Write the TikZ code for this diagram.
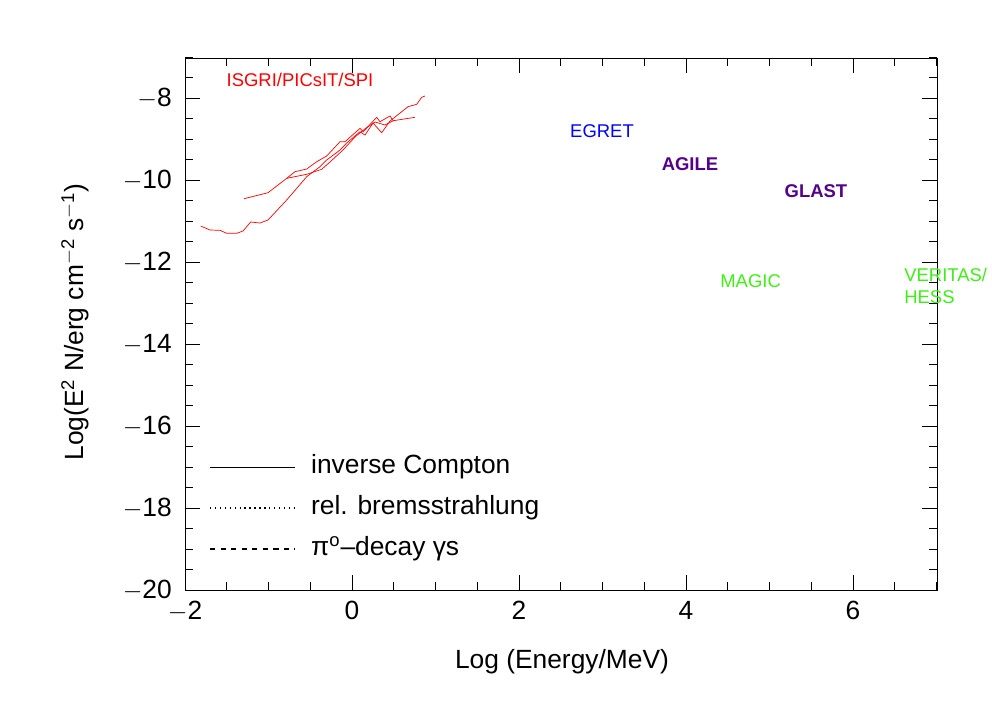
\documentclass[tikz,border=0pt]{standalone}
\usepackage{fontspec}
\setmainfont{Liberation Sans}
\usetikzlibrary{arrows.meta}
\definecolor{purp}{RGB}{85,0,140}
\definecolor{grn}{RGB}{60,240,20}

\begin{document}
\begin{tikzpicture}[x=0.02cm, y=-0.02cm, thin,
  lbl/.style={font=\fontsize{15}{15}\selectfont},
  tag/.style={font=\fontsize{10.5}{10.5}\selectfont},
  glabel/.style={tag, text=grn, anchor=west, inner sep=0pt},
  obs/.style={purp, line width=1.6pt},
  ic/.style={solid}, brems/.style={dotted, thick}, pion/.style={dashed, thick}]
\useasboundingbox (0,0) rectangle (992,708);
% frame
\node [draw, minimum width=752*0.02cm, minimum height=532*0.02cm, anchor=north west, inner sep=0pt] (box) at (185,58) {};
% ticks
\foreach \i in {0,...,18} {
  \pgfmathsetmacro\len{mod(\i,4)==0 ? 15 : 8}
  \draw (185+\i*41.75,590) -- ++(0,-\len);
  \draw (185+\i*41.75,58) -- ++(0,\len);
}
\foreach \i in {0,...,26} {
  \pgfmathsetmacro\len{mod(\i,4)==0 ? 15 : 8}
  \draw (185,590-\i*20.5) -- ++(\len,0);
  \draw (937,590-\i*20.5) -- ++(-\len,0);
}
\foreach \v [count=\k from 0] in {$-$2,0,2,4,6}
  \node [lbl, below=3pt] (xt\k) at (185+\k*167,590) {\v};
\foreach \v [count=\k from 0] in {$-$20,$-$18,$-$16,$-$14,$-$12,$-$10,$-$8}
  \node [lbl, left=4pt] (yt\k) at (185,590-\k*82) {\v};
\node [lbl] (xlab) at (562,662) {Log (Energy/MeV)};
\node [lbl, rotate=90] (ylab) at (75,322) {Log(E\textsuperscript{2} N/erg cm\textsuperscript{$-$2} s\textsuperscript{$-$1})};

% model curves, data units
\begin{scope}[shift={(350,938)}, x=83.5*0.02cm, y=41*0.02cm]
\clip (-2,-20) rectangle (7,-7);
\draw [smooth] plot coordinates {(-2,-13.2) (-1,-12.75) (0,-12.3) (1,-11.8) (2,-11.35) (2.8,-11.08) (3.3,-11) (3.8,-11.05) (4.1,-11.3) (4.35,-11.8) (4.5,-12.8)};
\draw (4.5,-12.8) -- (4.6,-14.3) -- (4.68,-20.2);
\draw [brems, smooth] plot coordinates {(-2,-17) (-1,-16.3) (0,-15.65) (1,-15.3) (2,-15.15) (3,-15.05) (4,-15.3) (4.6,-15.75) (5.1,-16.25) (5.4,-16.8) (5.5,-17.3) (5.58,-18.15)};
\draw [pion, smooth] plot coordinates {(-0.2,-20) (0.5,-17.5) (1,-15.7) (1.5,-14.1) (2,-13.1) (2.5,-12.5) (3,-12.25) (3.65,-12.07)};
% instruments
\draw [obs] (1.63,-9.88) -- (2.35,-10.27) -- (2.65,-10.3) -- (3.23,-10.12) -- (4.05,-9.34);
\draw [obs] (1.5,-12.05) -- (2,-12.2) -- (3,-12.15) -- (3.6,-11.95) -- (4,-11.6) -- (4.95,-10.5) -- (5.3,-9.83);
\draw [blue, thick] (2,-9.34) -- (4.06,-9.34);
\coordinate (eg) at (3,-9.34);
\coordinate (egend) at (3,-13.35);
\draw [blue, thick, -{Triangle[width=7pt,length=8pt]}] (eg) -- (egend);
\draw [grn] (4.72,-12.15) -- (6.02,-11.95);
\draw [grn] (4.92,-11.61) -- (5.22,-12.12) -- (5.94,-12.68) -- (6.22,-12.51) -- (6.74,-11.9);
\end{scope}
\node [tag, text=blue] (egret) at (602,131) {EGRET};
\node [tag, text=purp, font=\fontsize{10.5}{10.5}\selectfont\bfseries] (agile) at (690,164) {AGILE};
\node [tag, text=purp, font=\fontsize{10.5}{10.5}\selectfont\bfseries] (glast) at (816,191) {GLAST};
\node [glabel] (magic) at (720,281) {MAGIC};
\node [glabel, align=left] (veritas) at (904,286) {VERITAS/\\[2pt]HESS};
\node [tag, text=red] (isgri) at (300,80) {ISGRI/PICsIT/SPI};

% hard X-ray limits, pixel units
\begin{scope}[red]
\draw (200.7,226) -- (210,230) -- (220,230.3) -- (226.7,233.3) -- (236.7,233.3) -- (243,231) -- (250.7,222) -- (260,223) -- (268,220) -- (286.7,200) -- (306.7,176.7) -- (320,166.7) -- (326.7,160) -- (340,150) -- (346.7,143) -- (360,131.7) -- (365,135) -- (373,123) -- (381.7,132.7) -- (390,121) -- (408,106.7) -- (416.7,104.3) -- (421.7,97.3) -- (425,96);
\draw (244,198.7) -- (268,192.7) -- (286.7,178.3) -- (295,171.7) -- (306.7,169) -- (316.7,161.7) -- (326.7,156) -- (340,141.7) -- (345,141.7) -- (360,128.3) -- (363.3,131.7) -- (376.7,117.3) -- (380,121.7) -- (390,116) -- (393.3,120.7) -- (415,117.3);
\draw (286.7,178.3) -- (306.7,174.3) -- (321.7,169.3) -- (330,162) -- (343,150) -- (355,137) -- (366,128) -- (375,122) -- (385,125) -- (393.3,120.7);
\end{scope}

% legend
\foreach \y/\sty [count=\k] in {467/ic, 508/brems, 549/pion} {
  \coordinate (ls\k) at (210,\y);
  \coordinate (le\k) at (295,\y);
  \draw [\sty] (ls\k) -- (le\k);
}
\node [lbl, anchor=west] (leg1) at (305,467) {inverse Compton};
\node [lbl, anchor=west] (leg2) at (305,508) {rel. bremsstrahlung};
\node [lbl, anchor=west] (leg3) at (305,549) {π\textsuperscript{o}–decay γs};
\end{tikzpicture}
\end{document}
